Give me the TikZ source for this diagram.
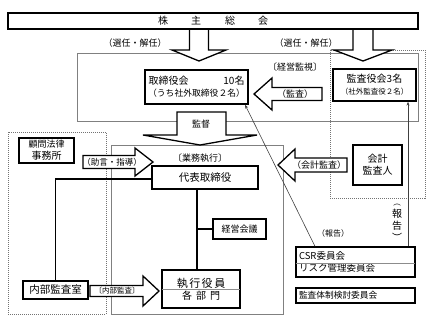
\documentclass[tikz,border=0pt]{standalone}
\usepackage{fontspec}
\setmainfont{Noto Sans CJK JP}
\usetikzlibrary{calc,arrows.meta}
\newcommand\fsz[2]{\fontsize{#1}{#2}\selectfont}
\tikzset{
  bx/.style={draw=black, line width=1.3pt, fill=white, inner sep=1pt},
  region/.style={draw=black!50, line width=0.8pt},
  dotregion/.style={draw=black!55, line width=0.8pt, dash pattern=on 1pt off 1pt},
  barrow/.style={draw=black, line width=1.3pt, fill=white, line join=miter},
  lbl/.style={inner sep=0pt},
  conn/.style={draw=black, line width=1.3pt},
  thinarrow/.style={draw=black!75, line width=0.6pt, -{Stealth[length=4pt,width=3pt]}},
  divider/.style={draw=black!45, line width=0.6pt}
}
\begin{document}
\begin{tikzpicture}[x=1pt,y=-1pt]
\useasboundingbox (0,0) rectangle (427,317);
% regions
\draw[region] (77,53) rectangle (418,121);
\draw[dotregion] (330,50) rectangle (425,198);
\draw[region] (111,145) rectangle (283,314);
\draw[dotregion] (8,132) rectangle (106,314);
% block arrows
\draw[barrow] (189.5,29) -- (189.5,50) -- (172,50) -- (199,61) -- (226,50) -- (208.5,50) -- (208.5,29);
\draw[barrow] (353,29) -- (353,50) -- (334,50) -- (363,61) -- (392,50) -- (373,50) -- (373,29);
\draw[barrow] (322,87.5) -- (272,87.5) -- (272,78) -- (254,94) -- (272,110) -- (272,100.5) -- (322,100.5) -- cycle;
\draw[barrow] (177,112) -- (226,112) -- (226,135) -- (257,135) -- (200,145) -- (143,135) -- (177,135) -- cycle;
\draw[barrow] (83,155.5) -- (135,155.5) -- (135,148) -- (153,162) -- (135,176) -- (135,168.5) -- (83,168.5) -- cycle;
\draw[barrow] (347,158) -- (295,158) -- (295,149) -- (278,165) -- (295,181) -- (295,172) -- (347,172) -- cycle;
\draw[barrow] (90,285.5) -- (143,285.5) -- (143,276) -- (159,291) -- (143,306) -- (143,296.5) -- (90,296.5) -- cycle;
% nodes
\node[bx, minimum width=410pt, minimum height=16pt] (sh) at (213,21)
  {\fsz{10}{12}株\hspace{23pt}主\hspace{24pt}総\hspace{23pt}会};
\node[bx, minimum width=103pt, minimum height=34pt, align=center] (tori) at (196.5,87)
  {\fsz{10}{13}\makebox[96pt][s]{取締役会\hfill 10名}\\\fsz{8.8}{13}（うち社外取締役２名）};
\node[bx, minimum width=83pt, minimum height=32pt, align=center] (kansa) at (374.5,85)
  {\fsz{10}{11}監査役会3名\\\fsz{7.5}{11}（社外監査役２名）};
\node[bx, minimum width=106pt, minimum height=23pt] (daihyo) at (205,177.5)
  {\fsz{10.5}{12}代表取締役};
\node[bx, minimum width=53pt, minimum height=20pt] (keiei) at (239.5,229)
  {\fsz{9}{11}経営会議};
\node[bx, minimum width=78pt, minimum height=38pt, align=center] (shikko) at (201,289)
  {\fsz{11}{19}執\kern1.5pt 行\kern1.5pt 役\kern1.5pt 員\\各\hspace{4pt}部\hspace{4pt}門};
\node[bx, minimum width=65pt, minimum height=18pt] (naibu) at (55.5,290)
  {\fsz{10.5}{12}内部監査室};
\node[bx, minimum width=55pt, minimum height=25pt, align=center] (komon) at (46.5,150.5)
  {\fsz{9}{11}顧問法律\\事務所};
\node[bx, minimum width=49pt, minimum height=40pt, align=center] (kaikei) at (377.5,165)
  {\fsz{10}{12.5}会計\\監査人};
\node[bx, minimum width=119pt, minimum height=30pt, align=left, text width=113pt] (csr) at (355.5,262)
  {\fsz{9.5}{15}CSR委員会\\リスク管理委員会};
\node[bx, minimum width=119pt, minimum height=15pt, align=left, text width=113pt] (kentou) at (355.5,295.5)
  {\fsz{8.7}{10}監査体制検討委員会};
% dividers
\draw[divider] ([xshift=0.7pt]shikko.west) -- ([xshift=-0.7pt]shikko.east);
\draw[divider] ([xshift=0.7pt,yshift=-1pt]csr.west) -- ([xshift=-0.7pt,yshift=-1pt]csr.east);
% connectors
\coordinate (vx) at (197,0);
\draw[conn] (daihyo.south -| vx) -- (shikko.north -| vx);
\draw[conn] (vx |- keiei.west) -- (keiei.west);
\draw[conn] ([yshift=-1.5pt]daihyo.west) -| (naibu.north);
\coordinate (rx) at (408,0);
\draw[thinarrow] (csr.north -| rx) -- (kansa.south -| rx);
\coordinate (dx1) at (315,0);
\coordinate (dx2) at (245,0);
\draw[thinarrow] (csr.north -| dx1) -- (tori.south -| dx2);
% labels
\node[lbl] (sen1) at (135,43) {\fsz{9}{10}（選任・解任）};
\node[lbl] (sen2) at (306,43) {\fsz{9}{10}（選任・解任）};
\node[lbl] (keieikanshi) at (295,67) {\fsz{9}{10}〔経営監視〕};
\node[lbl] (kansaL) at (295,94) {\fsz{9}{10}（監査）};
\node[lbl] (kantoku) at (201,124) {\fsz{9}{10}監督};
\node[lbl] (gyomu) at (200,158) {\fsz{9}{10}〔業務執行〕};
\node[lbl] (jogen) at (112,162) {\fsz{8.5}{10}（助言・指導）};
\node[lbl] (kaikeiL) at (319,165) {\fsz{9}{10}（会計監査）};
\node[lbl] (naibuL) at (117,291) {\fsz{7.5}{9}〔内部監査〕};
\node[lbl] (hokoku1) at (333,233) {\fsz{8}{9}（報告）};
\node[lbl, align=center] (hokoku2) at (397,223) {\fsz{7.5}{7}︵\\報\\告\\︶};
\end{tikzpicture}
\end{document}
